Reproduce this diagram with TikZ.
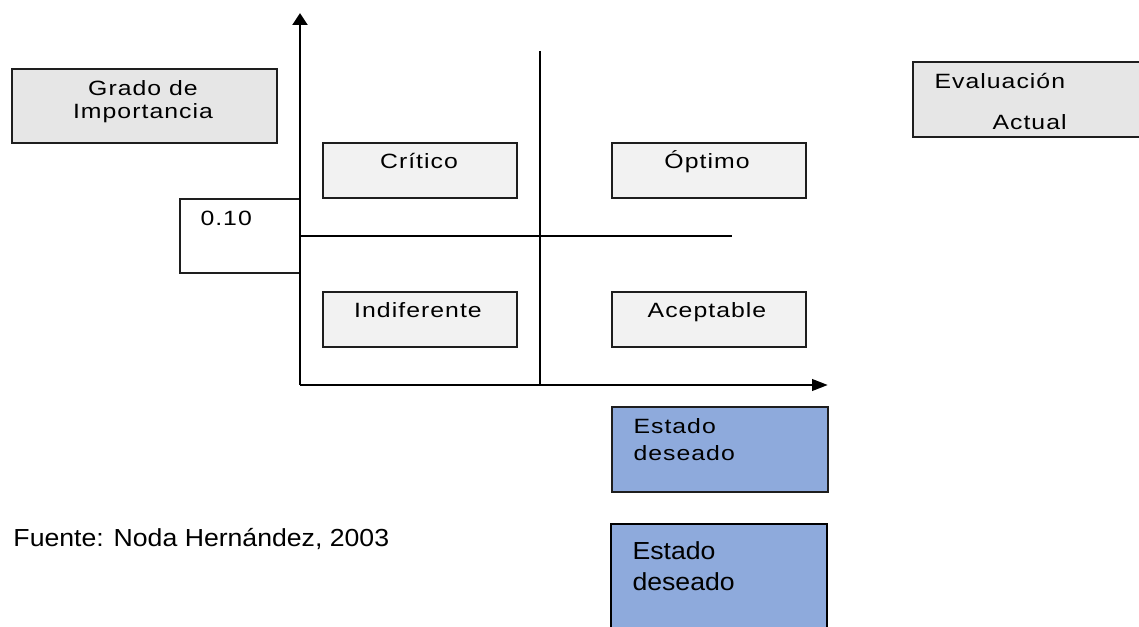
\documentclass[tikz,border=0pt]{standalone}
\usepackage{fontspec}
\setmainfont{Liberation Sans}
\newfontfamily\widefont{Liberation Sans}[FakeStretch=1.2, LetterSpace=5]
\newfontfamily\notefont{Liberation Sans}[FakeStretch=1.08]
\usetikzlibrary{arrows.meta}
\tikzset{every picture/.style={line width=0.75pt}}
\tikzset{
  boxtext/.style={font=\widefont\fontsize{15.5}{18}\selectfont, inner sep=0pt, anchor=base},
  bigtext/.style={font=\notefont\fontsize{18.5}{22}\selectfont, inner sep=0pt, anchor=base west},
  boxline/.style={draw={rgb, 255:red, 30; green, 30; blue, 30 }, line width=1.5pt},
  axisline/.style={line width=2.2pt}
}

\begin{document}
\begin{tikzpicture}[x=0.75pt,y=0.75pt,yscale=-1,xscale=1]
\path[use as bounding box] (0,0) rectangle (1139,627);

%Shape: Rectangle (Grado de Importancia)
\draw  [boxline, fill={rgb, 255:red, 230; green, 230; blue, 230 }] (12,69) rectangle (277,143) ;
%Shape: Rectangle (Evaluacion Actual), cut by the right border
\fill  [fill={rgb, 255:red, 230; green, 230; blue, 230 }] (913,62) rectangle (1139,137) ;
\draw  [boxline] (1139,62) -- (913,62) -- (913,137) -- (1139,137) ;
%Shape: Rectangle (0.10), open on the axis side
\draw  [boxline] (300,199) -- (180,199) -- (180,273) -- (300,273) ;

%Shape: Rectangles of the quadrants
\foreach \qx/\qy in {323/143, 323/292, 612/143, 612/292}
  \draw [boxline, fill={rgb, 255:red, 242; green, 242; blue, 242 }] (\qx,\qy) rectangle ++(194,55) ;

%Shape: Rectangles (Estado deseado)
\draw  [boxline, fill={rgb, 255:red, 142; green, 170; blue, 220 }] (612,407) rectangle (828,492) ;
\fill  [fill={rgb, 255:red, 142; green, 170; blue, 220 }] (611,524) rectangle (827,627) ;
\draw  [line width=2pt] (611,627) -- (611,524) -- (827,524) -- (827,627) ;

%Straight Lines (quadrant split)
\coordinate (vtop) at (540,51) ;
\coordinate (vbot) at (540,385) ;
\coordinate (hleft) at (300,236) ;
\coordinate (hright) at (732,236) ;
\draw [line width=1.4pt] (vtop) -- (vbot) ;
\draw [line width=1.4pt] (hleft) -- (hright) ;

%Straight Lines (axes)
\coordinate (origin) at (300,385) ;
\coordinate (ytip) at (300,13) ;
\coordinate (xtip) at (828,385) ;
\draw [axisline, -{Triangle[length=9pt,width=11pt]}] (origin) -- (ytip) ;
\draw [axisline, -{Triangle[length=12pt,width=8.5pt]}] (origin) -- (xtip) ;

%Texts
\node [boxtext] (grado) at (143,96) {Grado de} ;
\node [boxtext] (importancia) at (143,119) {Importancia} ;
\node [boxtext, anchor=base west] (peso) at (200,226) {0.10} ;
\node [boxtext] (critico) at (419,169) {Crítico} ;
\node [boxtext] (indiferente) at (418,318) {Indiferente} ;
\node [boxtext] (optimo) at (707,169) {Óptimo} ;
\node [boxtext] (aceptable) at (707,318) {Aceptable} ;
\node [boxtext, anchor=base west] (evaluacion) at (934,89) {Evaluación} ;
\node [boxtext, anchor=base west] (actual) at (992,130) {Actual} ;
\node [boxtext, anchor=base west] (estadoa) at (633,433) {Estado} ;
\node [boxtext, anchor=base west] (deseadoa) at (633,460) {deseado} ;
\node [bigtext] (estadob) at (632,559) {Estado} ;
\node [bigtext] (deseadob) at (632,590) {deseado} ;
\node [bigtext] (fuente) at (13,546) {Fuente: Noda Hernández, 2003} ;

\end{tikzpicture}
\end{document}
